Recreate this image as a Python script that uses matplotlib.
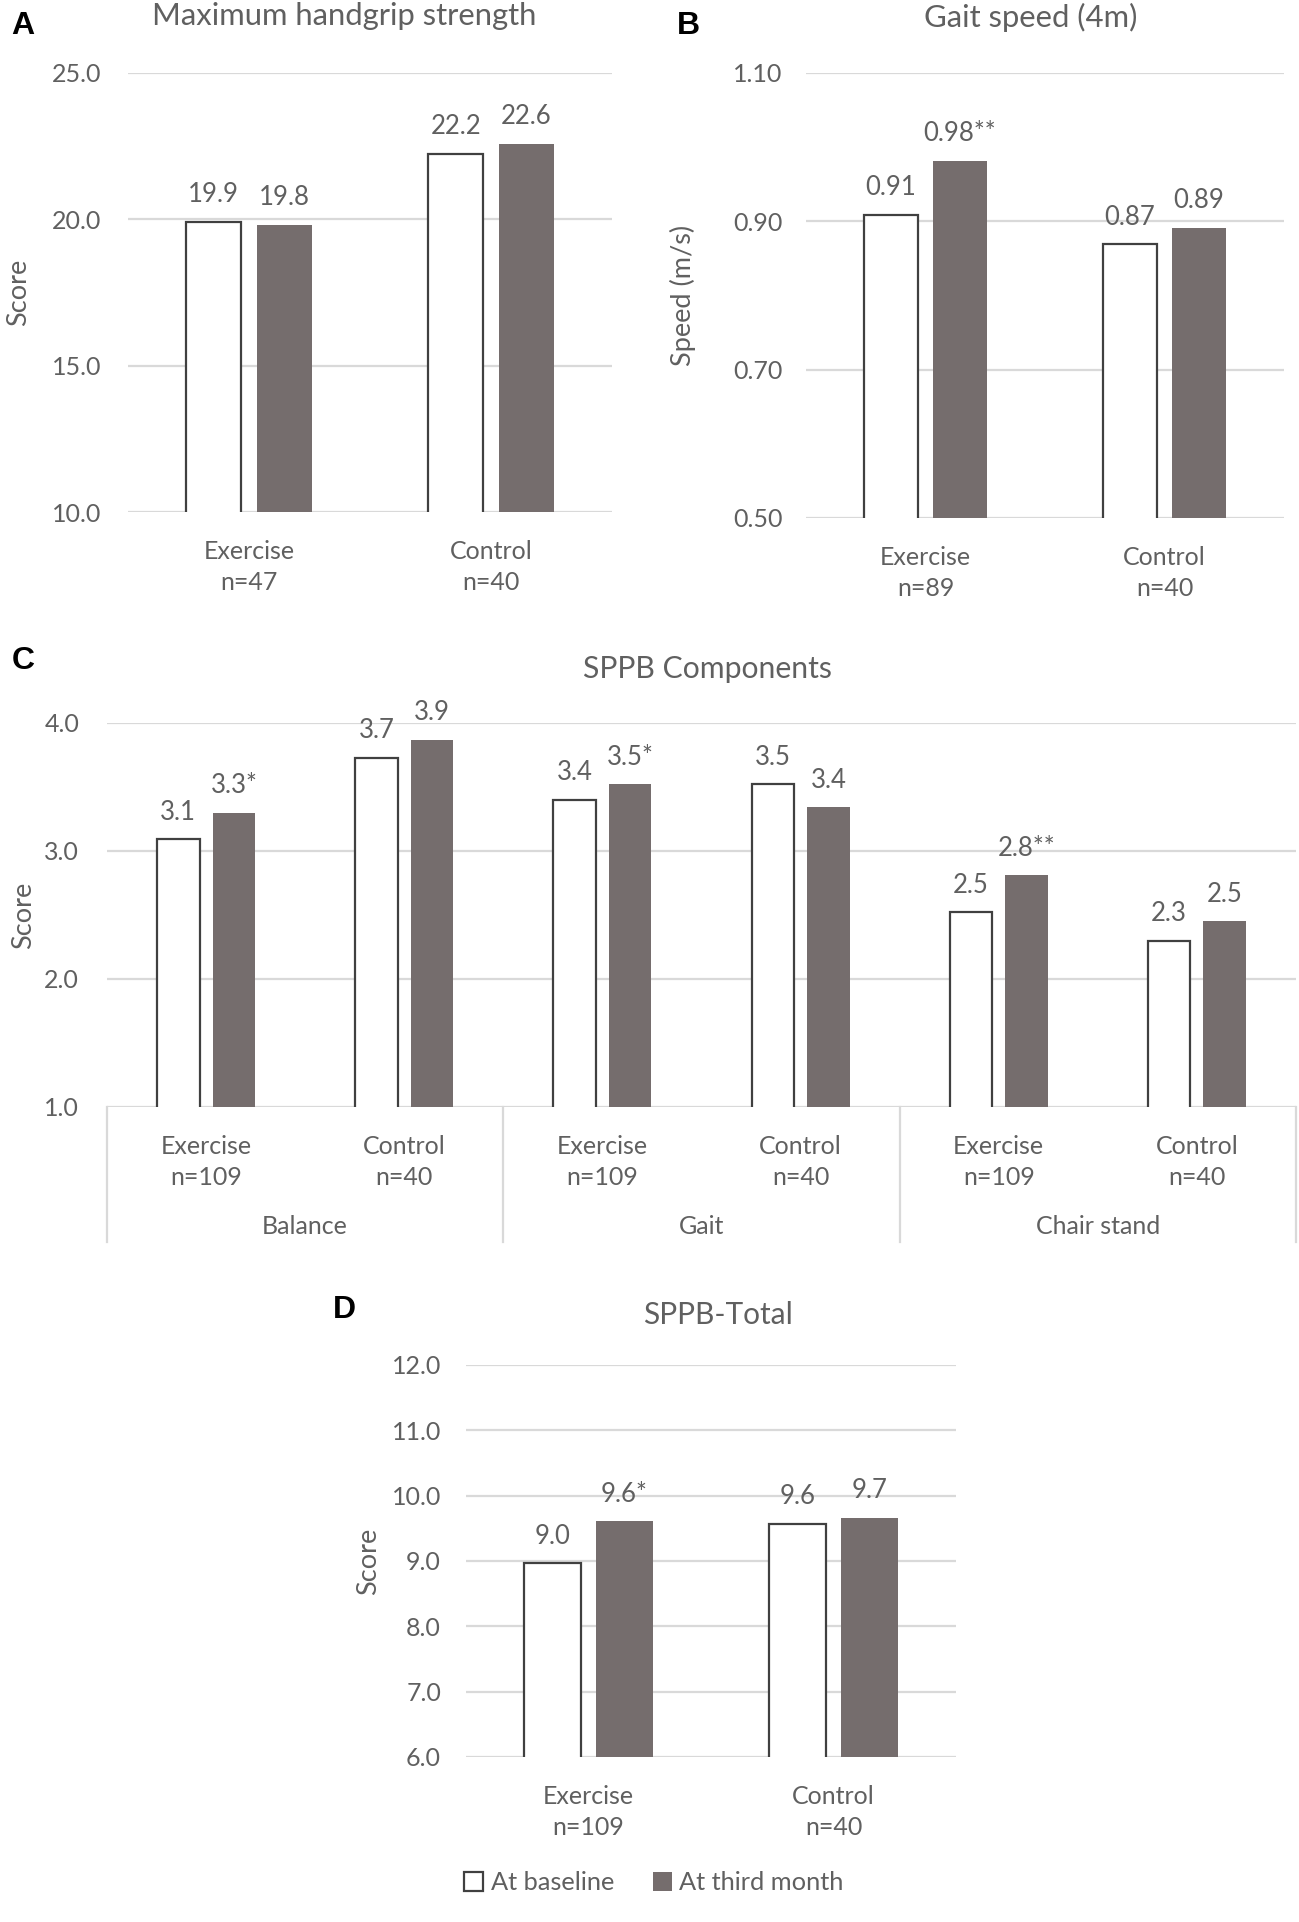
import numpy as np
import matplotlib
matplotlib.use("Agg")
from matplotlib import pyplot as plt

plt.rcParams['font.family'] = ['Lato', 'DejaVu Sans']

grey = "#606060"
dark = "#756d6d"
gridc = "#d9d9d9"
edge = "#404040"

# A - handgrip
grip_groups = ["Exercise\nn=47", "Control\nn=40"]
grip_base = [19.91, 22.24]
grip_third = [19.82, 22.58]
grip_base_lbl = ["19.9", "22.2"]
grip_third_lbl = ["19.8", "22.6"]
grip_ticks = [10.0, 15.0, 20.0, 25.0]

# B - gait speed
gait_groups = ["Exercise\nn=89", "Control\nn=40"]
gait_base = [0.909, 0.869]
gait_third = [0.982, 0.891]
gait_base_lbl = ["0.91", "0.87"]
gait_third_lbl = ["0.98**", "0.89"]
gait_ticks = [0.50, 0.70, 0.90, 1.10]

# C - SPPB components
comp_groups = ["Exercise\nn=109", "Control\nn=40"] * 3
comp_parts = ["Balance", "Gait", "Chair stand"]
comp_base = [3.09, 3.73, 3.40, 3.52, 2.52, 2.30]
comp_third = [3.30, 3.87, 3.52, 3.34, 2.81, 2.45]
comp_base_lbl = ["3.1", "3.7", "3.4", "3.5", "2.5", "2.3"]
comp_third_lbl = ["3.3*", "3.9", "3.5*", "3.4", "2.8**", "2.5"]
comp_ticks = [1.0, 2.0, 3.0, 4.0]

# D - SPPB total
tot_groups = ["Exercise\nn=109", "Control\nn=40"]
tot_base = [8.965, 9.57]
tot_third = [9.61, 9.66]
tot_base_lbl = ["9.0", "9.6"]
tot_third_lbl = ["9.6*", "9.7"]
tot_ticks = [6.0, 7.0, 8.0, 9.0, 10.0, 11.0, 12.0]

W, H = 1299, 1922
fig = plt.figure(figsize=(W / 100, H / 100), dpi=100)


def rect(x0, x1, ytop, ybot):
    return [x0 / W, 1 - ybot / H, (x1 - x0) / W, (ybot - ytop) / H]


def panel(ax, groups, base, third, blbl, tlbl, ticks, fmt, ylabel,
          off=0.146, bw=0.227, ypad=18):
    x = np.arange(len(groups))
    b1 = ax.bar(x - off, base, bw, color="white", edgecolor=edge, linewidth=1.6)
    b2 = ax.bar(x + off, third, bw, color=dark)
    for xi, v, s in zip(x - off, base, blbl):
        ax.annotate(s, (xi, v), xytext=(0, 10.5), textcoords="offset points",
                    ha="center", va="bottom", fontsize=18.5, color=grey)
    for xi, v, s in zip(x + off, third, tlbl):
        ax.annotate(s, (xi, v), xytext=(0, 10.5), textcoords="offset points",
                    ha="center", va="bottom", fontsize=18.5, color=grey)
    ax.set_xlim(-0.5, len(groups) - 0.5)
    ax.set_ylim(ticks[0], ticks[-1])
    ax.set_yticks(ticks)
    ax.set_yticklabels([fmt.format(t) for t in ticks])
    ax.set_xticks(x)
    ax.set_xticklabels(groups, linespacing=1.42)
    ax.yaxis.grid(True, color=gridc, linewidth=1.6)
    ax.set_axisbelow(True)
    for s in ax.spines.values():
        s.set_visible(False)
    ax.tick_params(axis="both", length=0, labelcolor=grey)
    ax.tick_params(axis="y", pad=ypad, labelsize=18)
    ax.tick_params(axis="x", pad=20, labelsize=18)
    ax.set_ylabel(ylabel, fontsize=19.5, color=grey)
    return b1, b2


axA = fig.add_axes(rect(128, 612, 73, 512))
panel(axA, grip_groups, grip_base, grip_third, grip_base_lbl, grip_third_lbl,
      grip_ticks, "{:.1f}", "Score", ypad=19)
axB = fig.add_axes(rect(806, 1284, 73, 518))
panel(axB, gait_groups, gait_base, gait_third, gait_base_lbl, gait_third_lbl,
      gait_ticks, "{:.2f}", "Speed (m/s)", off=0.144, bw=0.226, ypad=17)
axC = fig.add_axes(rect(107, 1296, 723, 1107))
panel(axC, comp_groups, comp_base, comp_third, comp_base_lbl, comp_third_lbl,
      comp_ticks, "{:.1f}", "Score", off=0.14, bw=0.215, ypad=20)
axD = fig.add_axes(rect(466, 956, 1365, 1757))
hb, ht = panel(axD, tot_groups, tot_base, tot_third, tot_base_lbl, tot_third_lbl,
               tot_ticks, "{:.1f}", "Score", off=0.147, bw=0.236, ypad=18)

# titles, placed in figure pixels
fig.text(344 / W, 1 - 16 / H, "Maximum handgrip strength", fontsize=22.3,
         color=grey, ha="center", va="center")
fig.text(1031 / W, 1 - 17 / H, "Gait speed (4m)", fontsize=22.3,
         color=grey, ha="center", va="center")
fig.text(707 / W, 1 - 669 / H, "SPPB Components", fontsize=21.7,
         color=grey, ha="center", va="center")
fig.text(718 / W, 1 - 1315 / H, "SPPB-Total", fontsize=21.5,
         color=grey, ha="center", va="center")
for lab, px, py in [("A", 23, 26), ("B", 688, 26), ("C", 23, 661), ("D", 344, 1310)]:
    fig.text(px / W, 1 - py / H, lab, fontsize=23, fontweight="bold",
             color="black", ha="center", va="center", family="Liberation Sans")

axA.yaxis.set_label_coords(-(128 - 31) / 484, 0.5)
axB.yaxis.set_label_coords(-(806 - 696) / 478, 0.5)
axC.yaxis.set_label_coords(-(107 - 36) / 1189, 0.5)
axD.yaxis.set_label_coords(-(466 - 381) / 490, 0.5)

# SPPB component groups below the axis
xt = axC.get_xaxis_transform()
for b in [-0.5, 1.5, 3.5, 5.5]:
    axC.plot([b, b], [0, -(1242 - 1107) / 384], transform=xt, color=gridc,
             linewidth=1.6, clip_on=False)
for i, name in enumerate(comp_parts):
    axC.text(2 * i + 0.5, -(1226 - 1107) / 384, name, transform=xt, ha="center",
             va="center", fontsize=18, color=grey)

fig.legend([hb, ht], ["At baseline", "At third month"], loc="center",
           bbox_to_anchor=(654 / W, 1 - 1883 / H), ncol=2, frameon=False,
           handlelength=0.75, handleheight=0.75, handletextpad=0.3,
           columnspacing=1.5, fontsize=18.3, labelcolor=grey)

fig.savefig("out.png", dpi=100)
